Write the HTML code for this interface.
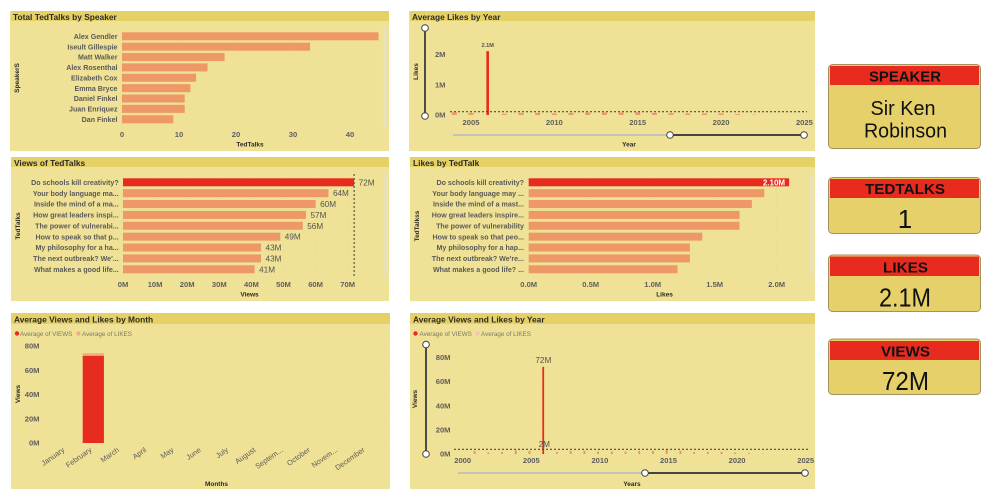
<!DOCTYPE html>
<html lang="en">
<head>
<meta charset="utf-8">
<title>TedTalks Dashboard</title>
<style>
  html, body { margin: 0; padding: 0; background: #fff; }
  #stage { display: block; width: 992px; height: 497px; font-family: "Liberation Sans", "DejaVu Sans", sans-serif; }
  .panel { fill: #EFE196; }
  .head { fill: #E6D167; }
  .ptitle { font-size: 8.4px; font-weight: 700; fill: #2b2a26; }
  .card { fill: #E6D06A; stroke: #A3925F; stroke-width: 1; }
  .cardhead { fill: #E82B1F; }
  .cardlabel { font-size: 15px; fill: #111; font-weight: 700; text-anchor: middle; }
  .cardvalue { fill: #111; text-anchor: middle; }
  .scroll { fill: #E9E2B8; }
  .soft { filter: blur(0.3px); }
</style>
</head>
<body>
<svg id="stage" xmlns="http://www.w3.org/2000/svg" width="992" height="497" viewBox="0 0 992 497">
  <rect width="992" height="497" fill="#ffffff"/>

  <g class="soft">
    <rect class="panel" x="10" y="11" width="379" height="140"/>
    <rect class="head" x="11" y="11" width="378" height="10"/>
    <text class="ptitle" x="13" y="20">Total TedTalks by Speaker</text>
    <rect class="scroll" x="383" y="28" width="4" height="100"/>
    <g id="c1"></g>
  </g>

  <g class="soft">
    <rect class="panel" x="409" y="11" width="406" height="140"/>
    <rect class="head" x="410" y="11" width="405" height="10"/>
    <text class="ptitle" x="412" y="20">Average Likes by Year</text>
    <g id="c2"></g>
  </g>

  <g class="soft">
    <rect class="panel" x="11" y="157" width="378" height="144"/>
    <rect class="head" x="11" y="157" width="378" height="10"/>
    <text class="ptitle" x="14" y="166">Views of TedTalks</text>
    <rect class="scroll" x="384" y="174" width="4" height="103"/>
    <g id="c3"></g>
  </g>

  <g class="soft">
    <rect class="panel" x="410" y="157" width="405" height="144"/>
    <rect class="head" x="410" y="157" width="405" height="10"/>
    <text class="ptitle" x="413" y="166">Likes by TedTalk</text>
    <rect class="scroll" x="810" y="174" width="4" height="103"/>
    <g id="c4"></g>
  </g>

  <g class="soft">
    <rect class="panel" x="11" y="313" width="379" height="176"/>
    <rect class="head" x="11" y="313" width="379" height="11"/>
    <text class="ptitle" x="14" y="322.5">Average Views and Likes by Month</text>
    <g id="c5"></g>
  </g>

  <g class="soft">
    <rect class="panel" x="410" y="313" width="405" height="176"/>
    <rect class="head" x="410" y="313" width="405" height="11"/>
    <text class="ptitle" x="413" y="322.5">Average Views and Likes by Year</text>
    <g id="c6"></g>
  </g>

  <g>
    <rect class="card" x="828.5" y="64.5" width="152" height="84" rx="4"/>
    <rect class="cardhead" x="830" y="66" width="149" height="19"/>
    <text class="cardlabel" x="905" y="81.5" textLength="72" lengthAdjust="spacingAndGlyphs">SPEAKER</text>
    <text class="cardvalue" x="903" y="115" font-size="20" textLength="65" lengthAdjust="spacingAndGlyphs">Sir Ken</text>
    <text class="cardvalue" x="905.5" y="137.5" font-size="20" textLength="83" lengthAdjust="spacingAndGlyphs">Robinson</text>
  </g>
  <g>
    <rect class="card" x="828.5" y="177.5" width="152" height="56" rx="4"/>
    <rect class="cardhead" x="830" y="179" width="149" height="19"/>
    <text class="cardlabel" x="905" y="194" textLength="80" lengthAdjust="spacingAndGlyphs">TEDTALKS</text>
    <text class="cardvalue" x="905" y="228" font-size="26">1</text>
  </g>
  <g>
    <rect class="card" x="828.5" y="255" width="152" height="56.5" rx="4"/>
    <rect class="cardhead" x="830" y="256.5" width="149" height="19.5"/>
    <text class="cardlabel" x="905.5" y="272.5" textLength="45" lengthAdjust="spacingAndGlyphs">LIKES</text>
    <text class="cardvalue" x="905" y="306.5" font-size="26" textLength="52" lengthAdjust="spacingAndGlyphs">2.1M</text>
  </g>
  <g>
    <rect class="card" x="828.5" y="339" width="152" height="55.5" rx="4"/>
    <rect class="cardhead" x="830" y="341" width="149" height="19"/>
    <text class="cardlabel" x="905.5" y="356.5" textLength="49" lengthAdjust="spacingAndGlyphs">VIEWS</text>
    <text class="cardvalue" x="905.5" y="390" font-size="26" textLength="47" lengthAdjust="spacingAndGlyphs">72M</text>
  </g>
</svg>

<script>
/* ---------- chart data ---------- */
const speakerNames = ["Alex Gendler", "Iseult Gillespie", "Matt Walker", "Alex Rosenthal", "Elizabeth Cox", "Emma Bryce", "Daniel Finkel", "Juan Enriquez", "Dan Finkel"];
const speakerTalks = [45, 33, 18, 15, 13, 12, 11, 11, 9];
const speakerTicks = [0, 10, 20, 30, 40];

const viewTalkNames = ["Do schools kill creativity?", "Your body language ma...", "Inside the mind of a ma...", "How great leaders inspi...", "The power of vulnerabi...", "How to speak so that p...", "My philosophy for a ha...", "The next outbreak? We'...", "What makes a good life..."];
const viewTalkValues = [72, 64, 60, 57, 56, 49, 43, 43, 41];
const viewTalkTicks = [0, 10, 20, 30, 40, 50, 60, 70];

const likeTalkNames = ["Do schools kill creativity?", "Your body language may ...", "Inside the mind of a mast...", "How great leaders inspire...", "The power of vulnerability", "How to speak so that peo...", "My philosophy for a hap...", "The next outbreak? We're...", "What makes a good life? ..."];
const likeTalkValues = [2.1, 1.9, 1.8, 1.7, 1.7, 1.4, 1.3, 1.3, 1.2];
const likeTalkTicks = [0, 0.5, 1, 1.5, 2];

const likeYears = [2004, 2005, 2006, 2007, 2008, 2009, 2010, 2011, 2012, 2013, 2014, 2015, 2016, 2017, 2018, 2019, 2020, 2021, 2022];
const likeYearValues = [0.09, 0.07, 2.1, 0.04, 0.07, 0.07, 0.05, 0.07, 0.08, 0.08, 0.08, 0.09, 0.07, 0.06, 0.05, 0.05, 0.05, 0.03, 0.01];
const likeYearAverage = 0.11;
const likeYearYTicks = [0, 1, 2];
const likeYearXTicks = [2005, 2010, 2015, 2020, 2025];

const monthNames = ["January", "February", "March", "April", "May", "June", "July", "August", "Septem...", "October", "Novem...", "December"];
const monthViews = [0, 72, 0, 0, 0, 0, 0, 0, 0, 0, 0, 0];
const monthLikes = [0, 2.1, 0, 0, 0, 0, 0, 0, 0, 0, 0, 0];
const monthYTicks = [0, 20, 40, 60, 80];

const viewYears = [2001, 2002, 2003, 2004, 2005, 2006, 2007, 2008, 2009, 2010, 2011, 2012, 2013, 2014, 2015, 2016, 2017, 2018, 2019, 2020, 2021, 2022];
const viewYearViews = [2.5, 1.2, 1.7, 3, 2.5, 72, 1.7, 2.5, 2.5, 2, 2, 2, 2.5, 2.5, 3.3, 2.5, 1.7, 1.7, 1.7, 1.2, 0.8, 0.3];
const viewYearLikes = [0.05, 0.03, 0.04, 0.09, 0.07, 2.1, 0.04, 0.07, 0.07, 0.05, 0.07, 0.08, 0.08, 0.08, 0.09, 0.07, 0.06, 0.05, 0.05, 0.05, 0.03, 0.01];
const viewYearAverage = 3.9;
const viewYearYTicks = [0, 20, 40, 60, 80];
const viewYearXTicks = [2000, 2005, 2010, 2015, 2020, 2025];

/* ---------- drawing helpers ---------- */
const NS = "http://www.w3.org/2000/svg";
const RED = "#E82B1F", ORANGE = "#EE9868", TICK = "#605E5C", CAT = "#5a5a58", DARK = "#2b2a26", GRID = "#E6D98F";
const TICK_SIZE = 7.6;

function make(parent, tag, props) {
  const el = document.createElementNS(NS, tag);
  for (const k in props) el.setAttribute(k, props[k]);
  parent.appendChild(el);
  return el;
}
function label(parent, x, y, str, size, color, anchor, weight) {
  const t = make(parent, "text", { x: x, y: y, "font-size": size, fill: color, "text-anchor": anchor || "middle", "font-weight": weight || 700 });
  t.textContent = str;
  return t;
}
function axisTitle(parent, x, y, str, rotated) {
  const t = label(parent, x, y, str, 6.5, DARK, "middle", 700);
  if (rotated) t.setAttribute("transform", "rotate(-90 " + x + " " + y + ")");
  
  
  return t;
}
function gridV(parent, x, y1, y2) {
  const l = make(parent, "line", { x1: x, x2: x, y1: y1, y2: y2, stroke: GRID, "stroke-width": 0.8, "stroke-dasharray": "1 2" });
  
  
}
function gridH(parent, y, x1, x2) {
  const l = make(parent, "line", { x1: x1, x2: x2, y1: y, y2: y, stroke: GRID, "stroke-width": 0.8, "stroke-dasharray": "1 2" });
  
  
}
function avgLine(parent, x1, y1, x2, y2) {
  const l = make(parent, "line", { x1: x1, y1: y1, x2: x2, y2: y2, stroke: "#4a4a40", "stroke-width": 1.1, "stroke-dasharray": "2 2" });
  
  
}
function handle(parent, cx, cy) {
  const c = make(parent, "circle", { cx: cx, cy: cy, r: 3.3, fill: "#fff", stroke: "#444", "stroke-width": 1 });
  
  
}
function sliderV(parent, x, y1, y2) {
  const l = make(parent, "line", { x1: x, x2: x, y1: y1, y2: y2, stroke: "#444", "stroke-width": 1.9 });
  
  
  handle(parent, x, y1);
  handle(parent, x, y2);
}
function sliderH(parent, x0, xa, xb, y) {
  const off = make(parent, "line", { x1: x0, x2: xa, y1: y, y2: y, stroke: "#C4C2BC", "stroke-width": 1.9 });
  
  
  const on = make(parent, "line", { x1: xa, x2: xb, y1: y, y2: y, stroke: "#444", "stroke-width": 1.9 });
  
  
  handle(parent, xa, y);
  handle(parent, xb, y);
}
function legendEntry(parent, cx, tx, y, str, color) {
  const d = make(parent, "circle", { cx: cx, cy: y, r: 2.2, fill: color });
  
  
  const t = label(parent, tx, y + 2.3, str, 6.3, "#7d7966", "start", 400);
  
  
}

/* horizontal bar chart driven by its arrays */
function hbars(root, o) {
  const xScale = v => o.x0 + v * o.k;
  const yBand = i => o.y0 + i * o.step;
  o.ticks.forEach(t => {
    gridV(root, xScale(t), o.gridTop, o.gridBottom);
    const tl = label(root, xScale(t), o.tickY, o.fmt(t), TICK_SIZE, TICK, "middle", 700);
    
    
  });
  o.cats.forEach((c, i) => {
    const cl = label(root, o.labelX, yBand(i) + 2.6, c, o.catSize, CAT, "end", 700);
    
    
    const b = make(root, "rect", { x: o.x0, y: yBand(i) - 4, width: xScale(o.vals[i]) - o.x0, height: 8, fill: (o.hi && i === 0) ? RED : ORANGE });
    
    
    if (o.dataLabels) {
      const dl = label(root, xScale(o.vals[i]) + 4.5, yBand(i) + 3, o.vals[i] + "M", 8.2, "#55544f", "start", 400);
      
      
    }
  });
}

/* ---------- chart 1: speakers ---------- */
const c1 = document.getElementById("c1");
hbars(c1, { cats: speakerNames, vals: speakerTalks, ticks: speakerTicks, fmt: v => String(v), x0: 122, k: 5.7, y0: 36.3, step: 10.37, labelX: 117.5, gridTop: 28, gridBottom: 128, tickY: 136.8, catSize: 7.1 });
axisTitle(c1, 250, 146.5, "TedTalks");
axisTitle(c1, 19, 78, "SpeakerS", true);

/* ---------- chart 3: views by talk ---------- */
const c3 = document.getElementById("c3");
hbars(c3, { cats: viewTalkNames, vals: viewTalkValues, ticks: viewTalkTicks, fmt: v => v + "M", x0: 123, k: 3.21, y0: 182.3, step: 10.87, labelX: 118.7, gridTop: 174, gridBottom: 277, tickY: 286.8, catSize: 7.1, hi: true, dataLabels: true });
avgLine(c3, 123 + viewTalkValues[0] * 3.21, 174, 123 + viewTalkValues[0] * 3.21, 277);
axisTitle(c3, 249.5, 296.5, "Views");
axisTitle(c3, 20, 226, "TedTalks", true);

/* ---------- chart 4: likes by talk ---------- */
const c4 = document.getElementById("c4");
hbars(c4, { cats: likeTalkNames, vals: likeTalkValues, ticks: likeTalkTicks, fmt: v => v.toFixed(1) + "M", x0: 528.7, k: 124, y0: 182.3, step: 10.87, labelX: 524, gridTop: 174, gridBottom: 277, tickY: 286.8, catSize: 7.1, hi: true });
const likeTop = label(c4, 528.7 + likeTalkValues[0] * 124 - 4, 185.6, likeTalkValues[0].toFixed(2) + "M", 8, "#ffffff", "end", 700);


axisTitle(c4, 664.5, 296.5, "Likes");
axisTitle(c4, 419, 226, "TedTalkss", true);

/* ---------- chart 2: likes by year ---------- */
const c2 = document.getElementById("c2");
const x2 = y => 471 + (y - 2005) * 16.67;
const y2 = v => 115 - v * 30.4;
likeYearYTicks.forEach(t => {
  if (t > 0) gridH(c2, y2(t), 450, 805);
  const tl = label(c2, 445.5, y2(t) + 2.7, t + "M", TICK_SIZE, TICK, "end", 700);
  
  
});
likeYearXTicks.forEach(t => {
  const tl = label(c2, x2(t), 125, String(t), TICK_SIZE, TICK, "middle", 700);
  
  
});
likeYears.forEach((yr, i) => {
  const peak = likeYearValues[i] === Math.max(...likeYearValues);
  const w = peak ? 2.6 : 5;
  const b = make(c2, "rect", { x: x2(yr) - w / 2, y: y2(likeYearValues[i]), width: w, height: 115 - y2(likeYearValues[i]), fill: peak ? RED : ORANGE });
  
  
  if (peak) {
    const dl = label(c2, x2(yr), y2(likeYearValues[i]) - 4, likeYearValues[i] + "M", 5.6, "#55544f", "middle", 700);
    
    
  }
});
avgLine(c2, 450, y2(likeYearAverage), 807, y2(likeYearAverage));
sliderV(c2, 425, 28, 116);
sliderH(c2, 453, 670, 804, 135);
axisTitle(c2, 629, 146.5, "Year");
axisTitle(c2, 418, 71.5, "Likes", true);

/* ---------- chart 5: months ---------- */
const c5 = document.getElementById("c5");
const x5 = i => 66 + i * 27.3;
const y5 = v => 443 - v * 1.2125;
legendEntry(c5, 17, 20, 333.5, "Average of VIEWS", RED);
legendEntry(c5, 78.5, 82, 333.5, "Average of LIKES", "#EFAD85");
monthYTicks.forEach(t => {
  gridH(c5, y5(t), 45, 388);
  const tl = label(c5, 39.5, y5(t) + 2.7, t + "M", TICK_SIZE, TICK, "end", 700);
  
  
});
monthNames.forEach((m, i) => {
  const lx = x5(i) - 1;
  const tl = label(c5, lx, 451, m, 7.4, "#5f5e58", "end", 400);
  tl.setAttribute("transform", "rotate(-35 " + lx + " 451)");
  
  
  if (monthViews[i] > 0) {
    const v = make(c5, "rect", { x: x5(i) - 10.6, y: y5(monthViews[i]), width: 21.2, height: 443 - y5(monthViews[i]), fill: RED });
    
    
    const l = make(c5, "rect", { x: x5(i) - 10.6, y: y5(monthViews[i] + monthLikes[i]), width: 21.2, height: y5(monthViews[i]) - y5(monthViews[i] + monthLikes[i]), fill: "#EFAD85" });
    
    
  }
});
axisTitle(c5, 216.5, 486, "Months");
axisTitle(c5, 20, 394, "Views", true);

/* ---------- chart 6: years ---------- */
const c6 = document.getElementById("c6");
const x6 = y => 461 + (y - 2000) * 13.72;
const y6 = v => 454 - v * 1.21;
legendEntry(c6, 415.5, 419.5, 333.5, "Average of VIEWS", RED);
legendEntry(c6, 477.5, 481, 333.5, "Average of LIKES", "#F2C6AE");
viewYearYTicks.forEach(t => {
  if (t > 0) gridH(c6, y6(t), 455, 808);
  const tl = label(c6, 450.5, y6(t) + 2.7, t + "M", TICK_SIZE, TICK, "end", 700);
  
  
});
viewYearXTicks.forEach(t => {
  const tl = label(c6, x6(t) + 1.7, 463, String(t), TICK_SIZE, TICK, "middle", 700);
  
  
});
viewYears.forEach((yr, i) => {
  const peak = viewYearViews[i] === Math.max(...viewYearViews);
  const v = make(c6, "rect", { x: x6(yr) - 1, y: y6(viewYearViews[i]), width: 1.8, height: 454 - y6(viewYearViews[i]), fill: peak ? RED : "#EE8E60" });
  
  
  const l = make(c6, "rect", { x: x6(yr) + 0.8, y: y6(viewYearLikes[i]), width: 1, height: 454 - y6(viewYearLikes[i]), fill: "#F2C6AE" });
  
  
  if (peak) {
    const dv = label(c6, x6(yr), y6(viewYearViews[i]) - 4, viewYearViews[i] + "M", 8.2, "#55544f", "middle", 400);
    
    
    const dl = label(c6, x6(yr) + 1, y6(viewYearLikes[i]) - 4.5, Math.round(viewYearLikes[i]) + "M", 8.2, "#55544f", "middle", 400);
    
    
  }
});
avgLine(c6, 454, y6(viewYearAverage), 808, y6(viewYearAverage));
sliderV(c6, 426, 344.5, 454);
sliderH(c6, 458, 645, 805, 473);
axisTitle(c6, 632, 486, "Years");
axisTitle(c6, 417, 399, "Views", true);
</script>
</body>
</html>
